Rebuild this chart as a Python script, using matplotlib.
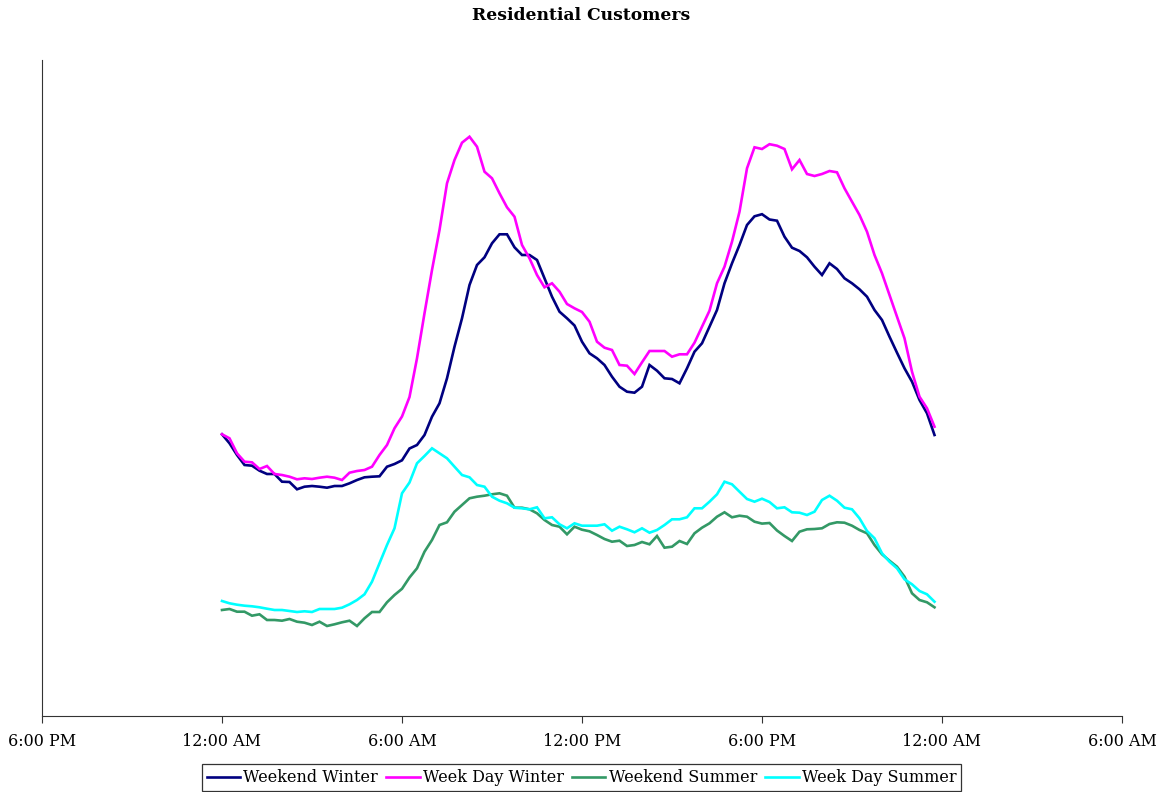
import matplotlib
matplotlib.use("Agg")
import matplotlib.pyplot as plt
import numpy as np

# Time of day in hours (15-minute intervals, midnight to 11:45 PM)
hours = [i * 0.25 for i in range(96)]

weekend_winter = [
    281.7, 272.7, 261, 251, 250.3, 245.3, 242, 242, 234.3, 234, 226.7, 229.3,
    230, 229.3, 228.3, 230, 230, 232.7, 236, 238.7, 239.3, 239.7, 249.3, 252,
    255.7, 267.5, 271, 281, 299.3, 312.7, 337.7, 369.3, 397.7, 431, 451, 458.7,
    472.7, 481.7, 481.7, 468.7, 461, 461, 456, 437.7, 419.3, 404.3, 397.7, 390.5,
    374.3, 362.7, 357.7, 351, 339.3, 329.3, 324.3, 323.3, 329.3, 351, 345.3, 337.7,
    337, 332.7, 347.7, 364.3, 372.7, 389.3, 406, 432.7, 452.7, 471, 491, 499.7,
    501.8, 496.5, 495.3, 479.3, 468.3, 465, 458.7, 449.3, 441, 452.7, 447, 437.7,
    432.7, 426.7, 419.3, 406, 396, 379.3, 363.3, 347.7, 334.3, 316, 302.7, 281,
]

weekday_winter = [
    281.7, 277.7, 262.7, 254.3, 253.7, 247, 250, 242, 241, 239.3, 236.7, 237.7,
    237, 238.3, 239.3, 238.3, 236, 243.3, 245, 246, 249.3, 261, 271, 287.7,
    299.5, 319, 357.7, 402.7, 446, 486, 532.7, 556, 573.3, 579.3, 569.3, 544.3,
    537.7, 522.7, 508.7, 499.3, 471, 457.7, 441, 428.7, 432.7, 424.3, 412, 407.7,
    404, 394.3, 374.3, 368.3, 366, 351, 350.3, 342, 353.7, 365, 365, 365,
    359.3, 361.7, 361.7, 373.3, 389.3, 405.3, 432.7, 449.3, 474.3, 504.3, 547.7, 568.7,
    567, 571.8, 570.3, 567, 546.7, 556, 542, 540, 542, 545, 543.7, 527.7,
    514.3, 501, 484.3, 461, 442.7, 421, 399.3, 377.7, 344.3, 319.3, 307.7, 289.3,
]

weekend_summer = [
    106, 107, 104.3, 104.3, 100.3, 101.7, 96, 96, 95.3, 97, 94.3, 93.3,
    91, 94.3, 90, 91.7, 93.7, 95.3, 90, 97.7, 104, 104, 113.7, 121,
    127.2, 138.5, 147.7, 164.3, 176, 191, 193.7, 204.3, 211, 217.7, 219.3, 220.3,
    221.7, 222.7, 220.3, 208.3, 208.3, 206.7, 202.7, 196, 191, 189.3, 181.7, 189.3,
    186.3, 184.7, 181, 177, 174.3, 175.3, 170, 171, 174, 171.7, 180, 168.3,
    169.3, 175, 172, 182.7, 188.3, 192.7, 199.3, 203.7, 198.7, 200.3, 199.3, 194.3,
    192.4, 193, 185.5, 180, 175, 184.3, 186.7, 187, 187.7, 192, 193.7, 193.3,
    190.3, 186, 182.7, 171, 161.7, 155.3, 149.3, 139.3, 122.7, 116, 113.7, 108.7,
]

weekday_summer = [
    115, 112.7, 111.3, 110.3, 109.7, 108.7, 107.3, 106, 106, 105, 104, 104.7,
    104, 107, 107, 107, 108.3, 111.7, 116, 121.7, 134.3, 152.7, 171, 187.7,
    222.7, 233.5, 252.7, 260, 267.7, 262.7, 257.7, 249.3, 241, 238.7, 231, 229.3,
    219.3, 215.3, 212.7, 208.3, 207.7, 206.7, 208.7, 197.7, 198.7, 191.7, 187.7, 192.7,
    190.3, 190.3, 190.3, 191.7, 185.3, 189.3, 186.7, 183.7, 187.7, 183.3, 186, 191,
    196.7, 196.7, 198.7, 207.7, 207.7, 214.3, 221.7, 234.3, 231.7, 224.3, 217, 214.3,
    217.3, 214, 207.7, 208.7, 203.7, 203.3, 201, 204.3, 216, 220.3, 215.3, 208.3,
    206.7, 197.7, 185, 177.7, 162.7, 154.3, 147.7, 136.7, 131.7, 125, 121.7, 114.3,
]

series_names = ["Weekend Winter", "Week Day Winter", "Weekend Summer", "Week Day Summer"]
series_colors = ["#000080", "#FF00FF", "#339966", "#00FFFF"]

tick_positions = [-6, 0, 6, 12, 18, 24, 30]
tick_labels = ["6:00 PM", "12:00 AM", "6:00 AM", "12:00 PM", "6:00 PM", "12:00 AM", "6:00 AM"]

plt.rcParams['font.family'] = ['DejaVu Serif']

fig = plt.figure(figsize=(11.63, 7.92), dpi=100)
ax = fig.add_axes([42 / 1163, 76 / 792, 1080 / 1163, 656 / 792])

for vals, name, col in zip([weekend_winter, weekday_winter, weekend_summer, weekday_summer],
                           series_names, series_colors):
    ax.plot(hours, vals, color=col, lw=1.9, label=name, solid_joinstyle='miter')

ax.set_xlim(-6, 30)
ax.set_ylim(0, 656)
ax.set_xticks(tick_positions)
ax.set_xticklabels(tick_labels, fontsize=11.5)
ax.set_yticks([])
ax.spines['top'].set_visible(False)
ax.spines['right'].set_visible(False)
ax.spines['left'].set_color('#333333')
ax.spines['bottom'].set_color('#333333')
ax.tick_params(axis='x', direction='out', length=5, width=0.8, color='#333333', pad=7)

fig.text(0.5, 1 - 16 / 792, "Residential Customers", ha='center', va='center',
         fontsize=12.3, fontweight='bold')

leg = fig.legend(loc='lower center', bbox_to_anchor=(0.5, 1 / 792), ncol=4,
                 fontsize=11.5, frameon=True, fancybox=False, edgecolor='black',
                 handlelength=2.1, handletextpad=0.2, columnspacing=0.5,
                 borderpad=0.3, borderaxespad=0)
leg.get_frame().set_linewidth(0.9)

fig.savefig("out.png", dpi=100)
